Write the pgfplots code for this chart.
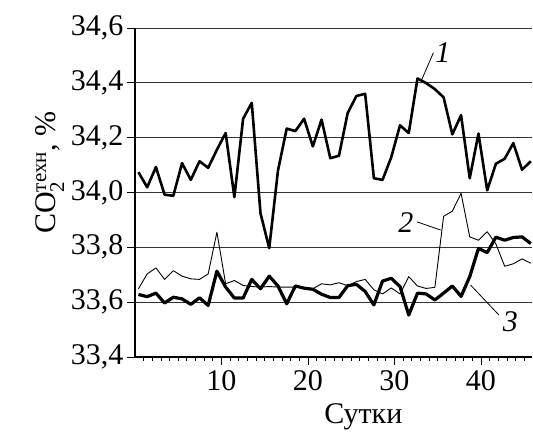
\documentclass[border=0pt]{standalone}
\usepackage{amsmath}
\usepackage{fontspec}
\setmainfont{Liberation Serif}
\usepackage{pgfplots}
\usepackage{pgfplotstable}
\pgfplotsset{compat=1.18}

% x = day position, s1..s3 = CO2 (%) of curves 1, 2, 3
\pgfplotstableread{
x s1 s2 s3
0.40 34.074 33.649 33.628
1.41 34.019 33.703 33.620
2.42 34.093 33.725 33.633
3.42 33.992 33.683 33.597
4.43 33.988 33.715 33.618
5.44 34.107 33.695 33.612
6.45 34.046 33.685 33.592
7.46 34.114 33.683 33.616
8.46 34.090 33.703 33.588
9.47 34.156 33.855 33.713
10.48 34.217 33.667 33.655
11.49 33.983 33.679 33.615
12.50 34.269 33.661 33.615
13.50 34.327 33.657 33.683
14.51 33.924 33.655 33.649
15.52 33.797 33.657 33.695
16.53 34.080 33.655 33.659
17.54 34.233 33.655 33.594
18.54 34.224 33.655 33.659
19.55 34.269 33.652 33.651
20.56 34.168 33.649 33.647
21.57 34.266 33.667 33.629
22.58 34.125 33.663 33.617
23.58 34.134 33.671 33.617
24.59 34.290 33.660 33.660
25.60 34.352 33.675 33.665
26.61 34.360 33.683 33.639
27.62 34.052 33.645 33.590
28.62 34.046 33.630 33.677
29.63 34.129 33.652 33.687
30.64 34.245 33.630 33.657
31.65 34.217 33.693 33.553
32.66 34.416 33.659 33.633
33.66 34.399 33.650 33.630
34.67 34.377 33.654 33.608
35.68 34.347 33.913 33.633
36.69 34.212 33.932 33.659
37.70 34.282 33.997 33.621
38.70 34.052 33.838 33.693
39.71 34.215 33.826 33.796
40.72 34.008 33.857 33.781
41.73 34.105 33.812 33.837
42.74 34.123 33.731 33.826
43.74 34.180 33.740 33.836
44.75 34.083 33.758 33.838
45.76 34.114 33.742 33.814
}\datatable

\begin{document}
\begin{tikzpicture}
\useasboundingbox (-135pt,-76pt) rectangle (398pt,329pt+28pt);
\begin{axis}[
    at={(0,0)}, anchor=south west,
    scale only axis,
    width=397pt, height=329pt,
    xmin=0, xmax=45.9,
    ymin=33.4, ymax=34.6,
    axis x line*=bottom, axis y line*=left,
    axis line style={line width=1.2pt, -},
    xtick={10,20,30,40},
    minor xtick={1,...,45},
    ytick={33.4,33.6,...,34.61},
    tick align=outside,
    major tick length=8pt, minor tick length=4pt,
    tick style={black, line width=0.8pt},
    ymajorgrids,
    grid style={black!80, line width=0.8pt},
    /pgf/number format/assume math mode=true,
    yticklabel style={/pgf/number format/.cd, fixed, fixed zerofill, precision=1, use comma},
    ticklabel style={font=\fontsize{30}{34}\selectfont},
    xticklabel style={yshift=-2pt},
    xlabel={Сутки},
    xlabel style={font=\fontsize{30}{34}\selectfont, at={(ticklabel cs:0.575)}, anchor=north, yshift=-6pt},
    ylabel={CO$_{\text{2}}^{\text{техн}}$, \%},
    ylabel style={font=\fontsize{30}{34}\selectfont, at={(ticklabel cs:0.56)}, anchor=south, yshift=0pt},
    clip=false,
]
\addplot[black, line width=2.6pt, line join=round] table[x=x, y=s1] {\datatable};
\addplot[black, line width=0.9pt, line join=round] table[x=x, y=s2] {\datatable};
\addplot[black, line width=3.2pt, line join=round] table[x=x, y=s3] {\datatable};

\draw[line width=0.8pt] (axis cs:34.5,34.51) -- (axis cs:33.13,34.41);
\node[font=\fontsize{30}{34}\selectfont\itshape] at (axis cs:35.6,34.51) {1};
\draw[line width=0.8pt] (axis cs:32.6,33.893) -- (axis cs:35.34,33.863);
\node[font=\fontsize{30}{34}\selectfont\itshape, anchor=east] at (axis cs:32.6,33.89) {2};
\draw[line width=0.8pt] (axis cs:42.08,33.553) -- (axis cs:38.81,33.662);
\node[font=\fontsize{30}{34}\selectfont\itshape] at (axis cs:43.4,33.53) {3};
\end{axis}
\end{tikzpicture}
\end{document}
